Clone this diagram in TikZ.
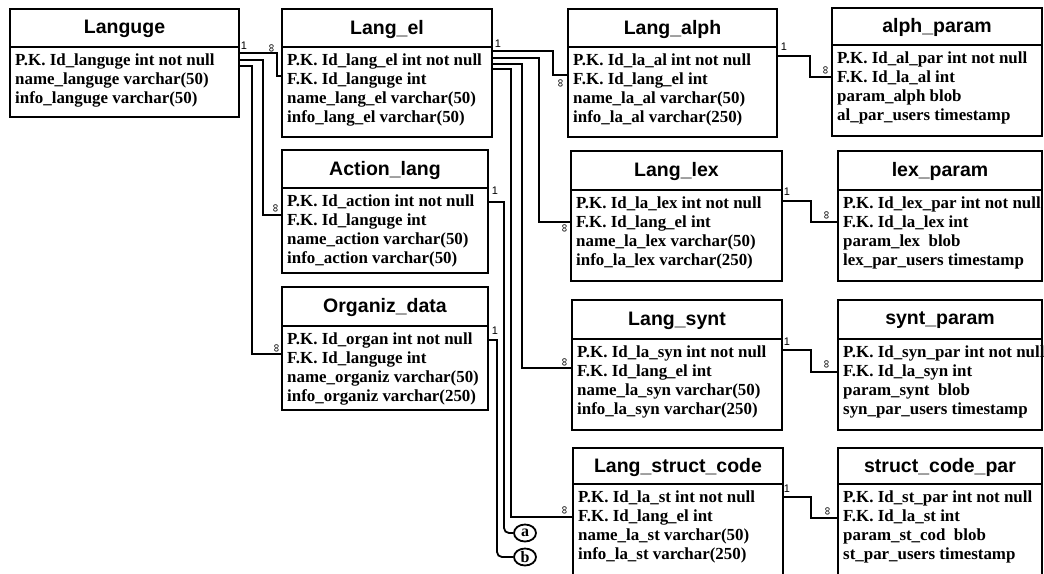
\documentclass[tikz,border=0pt]{standalone}
\usepackage{fontspec}
\setmainfont{Liberation Serif}
\newfontfamily\hdrfont{Liberation Sans}
\usetikzlibrary{shapes.geometric}
\tikzset{
 tbl/.style={draw, line width=2pt, inner sep=0pt, outer sep=0pt, anchor=north west},
 sepl/.style={line width=2pt},
 ttl/.style={font=\hdrfont\bfseries\fontsize{19.5}{22}\selectfont, inner sep=0pt},
 bodyt/.style={font=\bfseries\fontsize{16.9}{19}\selectfont, inner sep=0pt, anchor=base west},
 conn/.style={line width=1.8pt},
 one/.style={font=\hdrfont\fontsize{11}{12}\selectfont, inner sep=0pt},
 many/.style={font=\hdrfont\fontsize{11.5}{12}\selectfont, inner sep=0pt, rotate=90},
 lbl/.style={draw, ellipse, line width=1.8pt, minimum width=22pt, minimum height=17pt, inner sep=0pt, font=\bfseries\fontsize{16}{16}\selectfont},
}
\newcommand{\mktable}[8]{%
 \node[tbl, minimum width={(#4-#2)*1pt}, minimum height={(#5-#3)*1pt}] (#1) at (#2,#3) {};
 \draw[sepl] (#1.west |- 0,#6) -- (#1.east |- 0,#6);
 \node[ttl] (#1-title) at ({(#2+#4)/2},{(#3+#6)/2+1}) {#7};
 \foreach \txt [count=\i] in {#8} {\node[bodyt] (#1-r\i) at (#2+5,{#6+18+19*(\i-1)}) {\txt};}
}
\begin{document}
\begin{tikzpicture}[x=1pt,y=-1pt]
\useasboundingbox (0,0) rectangle (1044,573);
\fill[white] (0,0) rectangle (1044,573);
\clip (0,0) rectangle (1044,573);
\mktable{languge}{10}{9}{239}{117}{47}{Languge}{P.K. Id\_languge int not null, name\_languge varchar(50), info\_languge varchar(50)}
\mktable{langel}{282}{9}{492}{137}{47}{Lang\_el}{P.K. Id\_lang\_el int not null, F.K. Id\_languge int, name\_lang\_el varchar(50), info\_lang\_el varchar(50)}
\mktable{langalph}{568}{9}{777}{137}{47}{Lang\_alph}{P.K. Id\_la\_al int not null, F.K. Id\_lang\_el int, name\_la\_al varchar(50), info\_la\_al varchar(250)}
\mktable{alphparam}{832}{8}{1042}{136}{45}{alph\_param}{P.K. Id\_al\_par int not null, F.K. Id\_la\_al int, param\_alph blob, al\_par\_users timestamp}
\mktable{action}{282}{150}{488}{273}{188}{Action\_lang}{P.K. Id\_action int not null, F.K. Id\_languge int, name\_action varchar(50), info\_action varchar(50)}
\mktable{organiz}{282}{287}{488}{410}{326}{Organiz\_data}{P.K. Id\_organ int not null, F.K. Id\_languge int, name\_organiz varchar(50), info\_organiz varchar(250)}
\mktable{langlex}{571}{151}{782}{281}{190}{Lang\_lex}{P.K. Id\_la\_lex int not null, F.K. Id\_lang\_el int, name\_la\_lex varchar(50), info\_la\_lex varchar(250)}
\mktable{lexparam}{838}{151}{1042}{281}{190}{lex\_param}{P.K. Id\_lex\_par int not null, F.K. Id\_la\_lex int, param\_lex~ blob, lex\_par\_users timestamp}
\mktable{langsynt}{572}{300}{782}{430}{339}{Lang\_synt}{P.K. Id\_la\_syn int not null, F.K. Id\_lang\_el int, name\_la\_syn varchar(50), info\_la\_syn varchar(250)}
\mktable{syntparam}{838}{300}{1042}{430}{339}{synt\_param}{P.K. Id\_syn\_par int not null, F.K. Id\_la\_syn int, param\_synt~ blob, syn\_par\_users timestamp}
\mktable{langstruct}{573}{448}{783}{600}{484}{Lang\_struct\_code}{P.K. Id\_la\_st int not null, F.K. Id\_lang\_el int, name\_la\_st varchar(50), info\_la\_st varchar(250)}
\mktable{structpar}{838}{448}{1042}{600}{484}{struct\_code\_par}{P.K. Id\_st\_par int not null, F.K. Id\_la\_st int, param\_st\_cod~ blob, st\_par\_users timestamp}
\node[lbl] (ca) at (525,533) {a};
\node[lbl] (cb) at (525,557) {b};
% connectors
\draw[conn] (languge.east |- 0,53) -- ++(38,0) |- (langel.west |- 0,76);
\draw[conn] (languge.east |- 0,60) -- ++(24,0) |- (action.west |- 0,215);
\draw[conn] (languge.east |- 0,66) -- ++(13,0) |- (organiz.west |- 0,354);
\draw[conn] (langel.east |- 0,51) -- ++(61,0) |- (langalph.west |- 0,75);
\draw[conn] (langel.east |- 0,58) -- ++(47,0) |- (langlex.west |- 0,222);
\draw[conn] (langel.east |- 0,64) -- ++(30,0) |- (langsynt.west |- 0,368);
\draw[conn] (langel.east |- 0,69) -- ++(19,0) |- (langstruct.west |- 0,517);
\draw[conn] (action.east |- 0,202) -- ++(16,0) [rounded corners=5pt] |- (ca.west);
\draw[conn] (organiz.east |- 0,340) -- ++(9,0) [rounded corners=5pt] |- (cb.west);
\draw[conn] (langalph.east |- 0,56) -- ++(33,0) |- (alphparam.west |- 0,77);
\draw[conn] (langlex.east |- 0,201) -- ++(29,0) |- (lexparam.west |- 0,222);
\draw[conn] (langsynt.east |- 0,350) -- ++(29,0) |- (syntparam.west |- 0,372);
\draw[conn] (langstruct.east |- 0,497) -- ++(28,0) |- (structpar.west |- 0,518);
% cardinality labels
\node[one] (o1) at (244,46) {1};
\node[one] (o2) at (498,44) {1};
\node[one] (o3) at (495,191) {1};
\node[one] (o4) at (495,331) {1};
\node[one] (o5) at (784,47) {1};
\node[one] (o6) at (787,192) {1};
\node[one] (o7) at (787,342) {1};
\node[one] (o8) at (787,489) {1};
\node[many] (m1) at (272,48) {∞};
\node[many] (m2) at (276,208) {∞};
\node[many] (m3) at (277,348) {∞};
\node[many] (m4) at (561,83) {∞};
\node[many] (m5) at (565,228) {∞};
\node[many] (m6) at (565,362) {∞};
\node[many] (m7) at (565,510) {∞};
\node[many] (m8) at (826,70) {∞};
\node[many] (m9) at (827,215) {∞};
\node[many] (m10) at (827,364) {∞};
\node[many] (m11) at (828,511) {∞};
\end{tikzpicture}
\end{document}
